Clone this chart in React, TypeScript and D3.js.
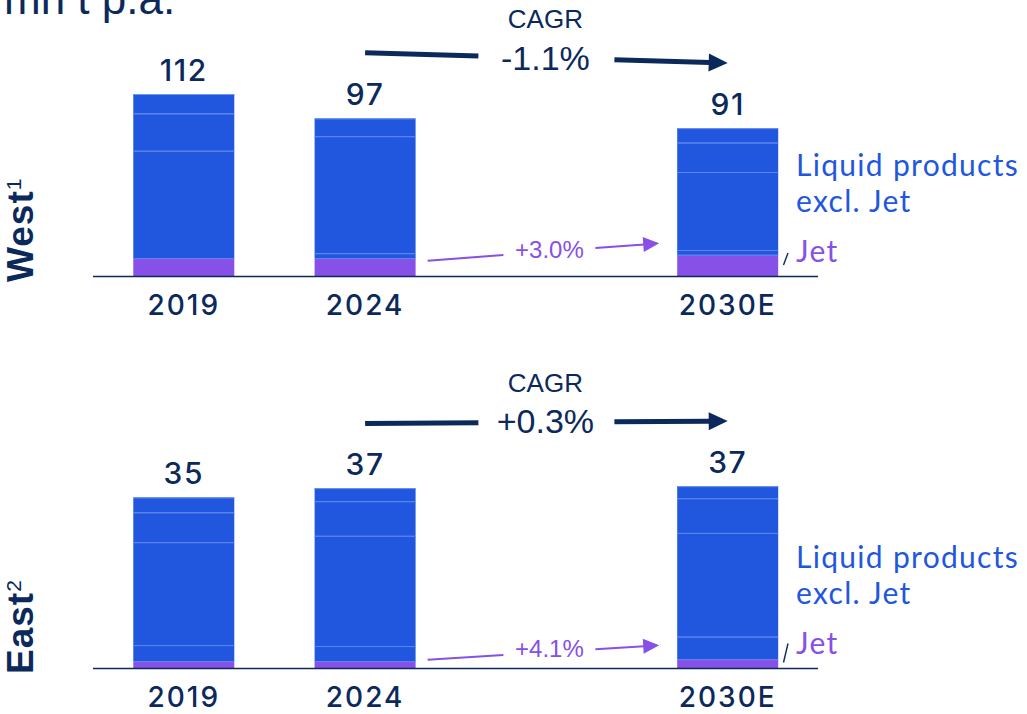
import React, { useEffect, useRef } from "react";
import * as d3 from "d3";

// categories
const years = ["2019", "2024", "2030E"];
const slots = ["2019", "2024", "gap", "2030E"];
const keys = ["jet", "s1", "s2", "s3", "s4"];

// West, mn t p.a. (jet + liquid product segments)
const westJet = [11, 11, 13];
const westS1 = [0, 3, 3];
const westS2 = [66, 72, 48];
const westS3 = [23, 0, 18];
const westS4 = [12, 11, 9];

// East, mn t p.a.
const eastJet = [1.4, 1.4, 1.8];
const eastS1 = [3.3, 3.1, 4.6];
const eastS2 = [21.1, 22.6, 21.3];
const eastS3 = [6.1, 7.1, 7.1];
const eastS4 = [3.1, 2.7, 2.5];

const cagrLabels = ["-1.1%", "+0.3%"];
const jetCagrLabels = ["+3.0%", "+4.1%"];

const W = 1027;
const H = 714;
const navy = "#0b2a5b";
const blue = "#2157de";
const purple = "#8750e6";
const sepColor = "#5b87ec";

const panels = [
  {
    name: "West", sup: "1", base: 276, yMax: 120,
    jet: westJet, s1: westS1, s2: westS2, s3: westS3, s4: westS4,
    cagr: cagrLabels[0], jetCagr: jetCagrLabels[0],
    cagrY: -248, valY: -206, arrowY0: -223.3, arrowY1: -213,
    jetY0: -15.3, jetY1: -32.7, jetTextY: -18,
    slash: [-11, -23],
  },
  {
    name: "East", sup: "2", base: 668, yMax: 40,
    jet: eastJet, s1: eastS1, s2: eastS2, s3: eastS3, s4: eastS4,
    cagr: cagrLabels[1], jetCagr: jetCagrLabels[1],
    cagrY: -276.5, valY: -235, arrowY0: -244.5, arrowY1: -247,
    jetY0: -8.3, jetY1: -22.7, jetTextY: -11.5,
    slash: [-5.5, -24.5],
  },
];

function arrow(g, x0, y0, x1, y1, gapA, gapB, width, headLen, headHalf, color) {
  const yAt = (xx) => y0 + ((y1 - y0) * (xx - x0)) / (x1 - x0);
  const ang = Math.atan2(y1 - y0, x1 - x0);
  const bx = x1 - headLen * Math.cos(ang);
  const by = y1 - headLen * Math.sin(ang);
  g.append("line")
    .attr("x1", x0).attr("y1", y0)
    .attr("x2", gapA).attr("y2", yAt(gapA))
    .attr("stroke", color).attr("stroke-width", width);
  g.append("line")
    .attr("x1", gapB).attr("y1", yAt(gapB))
    .attr("x2", bx + 1).attr("y2", by)
    .attr("stroke", color).attr("stroke-width", width);
  const px = -Math.sin(ang) * headHalf;
  const py = Math.cos(ang) * headHalf;
  g.append("path")
    .attr("d", `M${x1},${y1}L${bx + px},${by + py}L${bx - px},${by - py}Z`)
    .attr("fill", color);
}

export default function App() {
  const svgRef = useRef<SVGSVGElement>(null);

  useEffect(() => {
    const svg = d3.select(svgRef.current);
    svg.selectAll("*").remove();

    const x = d3.scaleBand()
      .domain(slots)
      .range([133.3, 778.2])
      .paddingInner(0.443)
      .paddingOuter(0)
      .align(0);
    const bw = x.bandwidth();
    const cx = (k) => x(k) + bw / 2;

    // Title (cut off at the top of the slide, as in the source)
    svg.append("text")
      .attr("x", 4)
      .attr("y", 14)
      .style("font-family", "Liberation Sans, Arial, sans-serif")
      .style("font-size", "44px")
      .attr("fill", navy)
      .text("mn t p.a.");

    panels.forEach((p) => {
      const g = svg.append("g");
      const y = d3.scaleLinear().domain([0, p.yMax]).range([p.base, p.base - 195]);

      const rows = years.map((yr, i) => ({
        year: yr, jet: p.jet[i], s1: p.s1[i], s2: p.s2[i], s3: p.s3[i], s4: p.s4[i],
      }));
      const series = d3.stack().keys(keys)(rows);

      // Bars
      series.forEach((layer) => {
        g.selectAll(null)
          .data(layer.filter((d) => d[1] - d[0] > 0))
          .join("rect")
          .attr("x", (d) => x(d.data.year))
          .attr("y", (d) => y(d[1]))
          .attr("width", bw)
          .attr("height", (d) => y(d[0]) - y(d[1]))
          .attr("fill", layer.key === "jet" ? purple : blue);
      });

      // thin separators between segments
      series.forEach((layer) => {
        if (layer.key === "jet") return;
        g.selectAll(null)
          .data(layer.filter((d) => d[1] - d[0] > 0))
          .join("line")
          .attr("x1", (d) => x(d.data.year))
          .attr("x2", (d) => x(d.data.year) + bw)
          .attr("y1", (d) => y(d[0]) + 0.5)
          .attr("y2", (d) => y(d[0]) + 0.5)
          .attr("stroke", sepColor)
          .attr("stroke-width", 1);
      });
      const totals = rows.map((r) => keys.reduce((s, k) => s + r[k], 0));
      g.selectAll(null)
        .data(rows)
        .join("line")
        .attr("x1", (d) => x(d.year))
        .attr("x2", (d) => x(d.year) + bw)
        .attr("y1", (d, i) => y(totals[i]) + 0.5)
        .attr("y2", (d, i) => y(totals[i]) + 0.5)
        .attr("stroke", "#6f95ee")
        .attr("stroke-width", 1);

      // Totals
      g.selectAll(null)
        .data(rows)
        .join("text")
        .attr("x", (d) => cx(d.year))
        .attr("y", (d, i) => y(totals[i]) - 13)
        .attr("text-anchor", "middle")
        .style("font-family", "Inter, sans-serif")
        .style("font-size", "30px")
        .style("font-weight", 500)
        .style("letter-spacing", "1.5px")
        .attr("fill", navy)
        .text((d, i) => Math.round(totals[i]));

      // Baseline
      g.append("line")
        .attr("x1", 93).attr("x2", 818)
        .attr("y1", p.base + 0.5).attr("y2", p.base + 0.5)
        .attr("stroke", navy).attr("stroke-width", 1.6);

      // Year labels
      g.selectAll(null)
        .data(years)
        .join("text")
        .attr("x", (d) => cx(d))
        .attr("y", p.base + 39)
        .attr("text-anchor", "middle")
        .style("font-family", "Inter, sans-serif")
        .style("font-size", "28px")
        .style("font-weight", 500)
        .style("letter-spacing", "2px")
        .attr("fill", navy)
        .text((d) => d);

      // Region label (rotated)
      const rl = g.append("text")
        .attr("transform", `translate(33,${p.base + 6}) rotate(-90)`)
        .style("font-family", "Liberation Sans, Arial, sans-serif")
        .style("font-size", "37px")
        .style("font-weight", 600)
        .style("letter-spacing", "1px")
        .attr("fill", navy);
      rl.append("tspan").text(p.name);
      rl.append("tspan")
        .attr("dy", -12)
        .style("font-size", "21px")
        .style("font-weight", 400)
        .text(p.sup);

      // CAGR arrow
      const mid = (cx("2024") + cx("2030E")) / 2;
      arrow(g, cx("2024"), p.base + p.arrowY0, cx("2030E"), p.base + p.arrowY1,
        mid - 68, mid + 68, 5, 19, 9, navy);
      g.append("text")
        .attr("x", mid - 1)
        .attr("y", p.base + p.cagrY)
        .attr("text-anchor", "middle")
        .style("font-family", "Liberation Sans, Arial, sans-serif")
        .style("font-size", "26px")
        .attr("fill", navy)
        .text("CAGR");
      g.append("text")
        .attr("x", mid - 1)
        .attr("y", p.base + p.valY)
        .attr("text-anchor", "middle")
        .style("font-family", "Liberation Sans, Arial, sans-serif")
        .style("font-size", "34px")
        .attr("fill", navy)
        .text(p.cagr);

      // Jet CAGR arrow
      const jx0 = x("2024") + bw + 12;
      const jx1 = x("2030E") - 18;
      const jt = (jx0 + jx1) / 2 + 6;
      arrow(g, jx0, p.base + p.jetY0, jx1, p.base + p.jetY1,
        jt - 46, jt + 46, 2, 16, 7.5, purple);
      g.append("text")
        .attr("x", jt)
        .attr("y", p.base + p.jetTextY)
        .attr("text-anchor", "middle")
        .style("font-family", "Liberation Sans, Arial, sans-serif")
        .style("font-size", "24px")
        .attr("fill", purple)
        .text(p.jetCagr);

      // Series labels
      const lx = 796;
      const lab = (txt, dy, col) => g.append("text")
        .attr("x", lx)
        .attr("y", p.base + dy)
        .style("font-family", "Lato, sans-serif")
        .style("font-size", "30px")
        .style("letter-spacing", "1.3px")
        .attr("fill", col)
        .text(txt);
      lab("Liquid products", -100, blue);
      lab("excl. Jet", -64, blue);
      lab("Jet", -14.5, purple);
      g.append("line")
        .attr("x1", 783.5).attr("y1", p.base + p.slash[0])
        .attr("x2", 788).attr("y2", p.base + p.slash[1])
        .attr("stroke", navy).attr("stroke-width", 1.4);
    });
  }, []);

  return (
    <div style={{ position: "absolute", left: 0, top: 0, width: W, height: H, background: "#fff" }}>
      <svg ref={svgRef} width={W} height={H}></svg>
    </div>
  );
}
